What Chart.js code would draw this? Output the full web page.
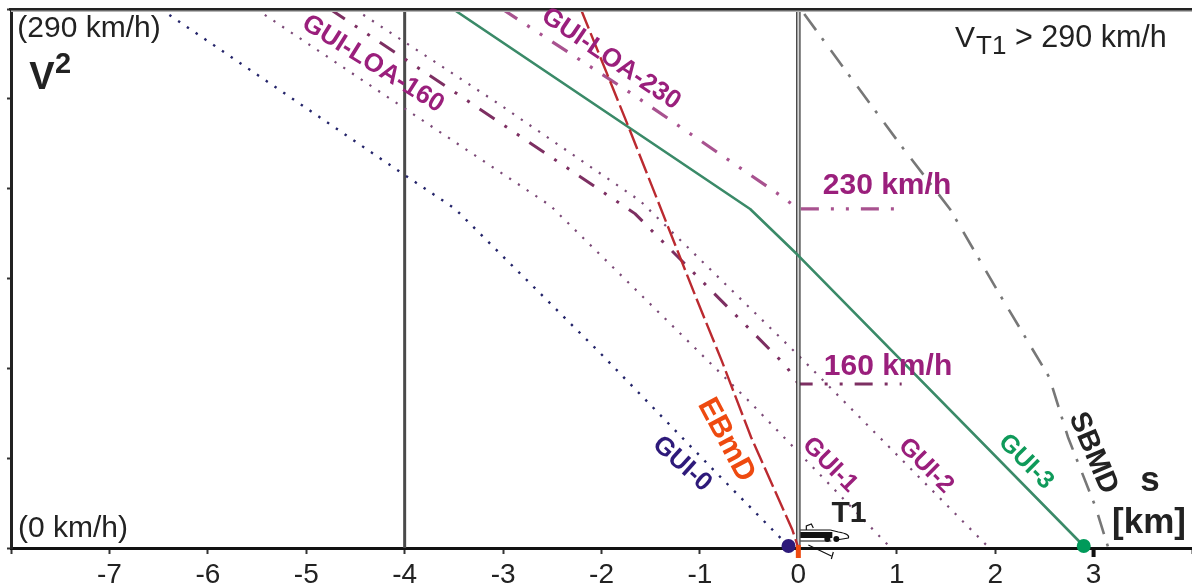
<!DOCTYPE html>
<html>
<head>
<meta charset="utf-8">
<style>
html,body{margin:0;padding:0;background:#fff}
#wrap{width:1192px;height:587px;position:relative;overflow:hidden}
canvas{display:block}
</style>
<script src="https://cdn.jsdelivr.net/npm/chart.js@4/dist/chart.umd.min.js"></script>
</head>
<body>
<div id="wrap"><canvas id="c" width="1192" height="587"></canvas></div>
<script>
// Horizontal axis: distance s [km]; vertical axis: V squared, (km/h)^2
const xTickLabels = ['-7','-6','-5','-4','-3','-2','-1','0','1','2','3'];
const speedTop = 84100, speed230 = 52900, speed160 = 25600;

const gui0S = [-6.48,-3.99,-3.49,-2.01,-0.86,-0.10];
const gui0V = [speedTop,58091,52950,30369,12148,311];

const gui1S = [-5.51,-4.01,-2.52,-0.48,0.94];
const gui1V = [speedTop,68681,53419,22582,0];

const gui2S = [-4.51,-3.06,-1.61,-0.02,1.94];
const gui2V = [speedTop,69460,54198,30369,0];

const gui3S = [-3.51,-0.49,0,2.90];
const gui3V = [speedTop,speed230,45632,311];

const loa160S = [-4.76,-3.33,-1.66,-0.13,0,1.05];
const loa160V = [speedTop,69460,52173,28500,speed160,speed160];

const loa230S = [-3.01,-1.66,-0.18,0,1.09];
const loa230V = [speedTop,70550,54976,speed230,speed230];

const ebmdS = [-2.21,-1.73,-1.04,-0.78,-0.48,-0.06,0];
const ebmdV = [speedTop,65878,39091,29279,17287,2803,0];

const sbmdS = [0.06,0.52,1.06,1.54,2.04,2.55,2.74,3.02,3.15];
const sbmdV = [83321,73665,62452,speed230,39714,26632,17287,6385,0];

const markerS = [-0.10,2.90];
const markerV = [311,311];

const pts = (xs,ys) => xs.map((x,i)=>({x,y:ys[i]}));
const lineDs = (xs,ys,color,width,dash) => ({
  type:'line',data:pts(xs,ys),borderColor:color,borderWidth:width,borderDash:dash,
  pointRadius:0,fill:false,tension:0,borderCapStyle:'butt',borderJoinStyle:'round'
});

const PURPLE='#9a1f7c';
const textPlugin = {
  id:'decor',
  afterDraw(chart){
    const {ctx,chartArea:a,scales:{x,y}} = chart;
    const x0=x.getPixelForValue(0), y0=y.getPixelForValue(0), x3=x.getPixelForValue(3);
    ctx.save();
    // top frame with soft shadow
    ctx.fillStyle='#b5b5b5'; ctx.fillRect(a.left,a.top+1,a.right-a.left,2);
    ctx.fillStyle='#222';    ctx.fillRect(a.left-2,a.top-1,a.right-a.left+2,2.5);
    // highlighted ticks
    ctx.fillStyle='#ee4a10'; ctx.fillRect(x0-2.5,y0-3,5,13);
    ctx.fillStyle='#111';    ctx.fillRect(x3-2,y0,4,9);
    // train T1
    ctx.fillStyle='#111'; ctx.strokeStyle='#111';
    ctx.fillRect(x0+2,y0-16,32,6);
    ctx.lineWidth=1.2;
    ctx.beginPath();
    ctx.moveTo(x0+2,y0-18); ctx.lineTo(x0+32,y0-18);
    ctx.moveTo(x0+2,y0-7);  ctx.lineTo(x0+33,y0-7);
    ctx.moveTo(x0+32,y0-18);ctx.lineTo(x0+40,y0-16);
    ctx.quadraticCurveTo(x0+52,y0-14,x0+50,y0-10);
    ctx.lineTo(x0+38,y0-8);
    ctx.moveTo(x0+8,y0-18); ctx.lineTo(x0+8,y0-22); ctx.lineTo(x0+13,y0-24); ctx.lineTo(x0+15,y0-20);
    ctx.moveTo(x0+10,y0-3); ctx.lineTo(x0+33,y0+8);
    ctx.moveTo(x0+35,y0+4); ctx.lineTo(x0+33,y0+11);
    ctx.stroke();
    [29,38].forEach(d=>{ctx.beginPath();ctx.arc(x0+d,y0-9,3,0,7);ctx.fill();});
    // labels
    const T=(s,px,py,deg,font,color,align='center')=>{
      ctx.save();ctx.translate(px,py);ctx.rotate(deg*Math.PI/180);
      ctx.font=font;ctx.fillStyle=color;ctx.textAlign=align;ctx.textBaseline='middle';
      ctx.fillText(s,0,0);ctx.restore();
    };
    const F='"Liberation Sans"';
    T('(290 km/h)',89,29,0,'30px '+F,'#222');
    T('(0 km/h)',73,529,0,'30px '+F,'#222');
    T('V',42,79,0,'bold 38px '+F,'#222');
    T('2',63,65,0,'bold 29px '+F,'#222');
    T('V',955,39,0,'30px '+F,'#222','left');
    T('T1',976,47,0,'26px '+F,'#222','left');
    T('> 290 km/h',1015,39,0,'30.5px '+F,'#222','left');
    T('GUI-LOA-160',373,64,32,'bold 26px '+F,PURPLE);
    T('GUI-LOA-230',611,59,34,'bold 26px '+F,PURPLE);
    T('230 km/h',887,186,0,'bold 30px '+F,PURPLE);
    T('160 km/h',888,367,0,'bold 30px '+F,PURPLE);
    T('EBmD',726,440,62,'bold 30px '+F,'#ee4a10');
    T('GUI-0',682,464,42,'bold 26px '+F,'#2e1a7a');
    T('GUI-1',830,465,45,'bold 25px '+F,PURPLE);
    T('GUI-2',926,466,45,'bold 25px '+F,PURPLE);
    T('GUI-3',1026,462,45,'bold 25px '+F,'#0f9a5a');
    T('SBMD',1093,453,67,'bold 29px '+F,'#222');
    T('T1',849,514,0,'bold 30px '+F,'#222');
    T('s',1150,481,0,'bold 35px '+F,'#222');
    T('[km]',1149,523,0,'bold 35px '+F,'#222');
    ctx.restore();
  }
};

new Chart(document.getElementById('c'),{
  type:'scatter',
  data:{datasets:[
    {type:'scatter',data:pts(markerS.slice(0,1),markerV.slice(0,1)),pointRadius:7,
     backgroundColor:'#2e1a7a',borderWidth:0,clip:false},
    {type:'scatter',data:pts(markerS.slice(1),markerV.slice(1)),pointRadius:7,
     backgroundColor:'#009a5a',borderWidth:0,clip:false},
    lineDs(ebmdS,ebmdV,'#bb2a30',2.4,[21,5]),
    lineDs(gui3S,gui3V,'#3a8a68',2.6,[]),
    lineDs([0,0],[0,speedTop],'#d4d4d4',2,[]),
    lineDs([0,0],[0,speedTop],'#3c3c3c',4.5,[]),
    lineDs(sbmdS,sbmdV,'#777777',2.6,[20,10,3,12]),
    lineDs(loa230S,loa230V,'#a8528f',3.2,[18,12,3,12,3,12]),
    lineDs(loa160S,loa160V,'#7d2f62',3,[18,12,3,12,3,12]),
    lineDs(gui2S,gui2V,'#7c4a78',2.2,[2.2,8.3]),
    lineDs(gui1S,gui1V,'#7c4a78',2.2,[2.2,8.3]),
    lineDs(gui0S,gui0V,'#24246a',2.4,[2.4,8.2]),
    lineDs([-4,-4],[0,speedTop],'#4a4a4a',3,[])
  ]},
  options:{
    responsive:false,animation:false,
    layout:{autoPadding:false,padding:{top:9,right:0,left:0,bottom:0}},
    plugins:{legend:{display:false},tooltip:{enabled:false},title:{display:false}},
    scales:{
      x:{type:'linear',min:-8,max:4,
        afterFit(s){s.height=39;},
        grid:{drawOnChartArea:false,drawTicks:true,tickLength:6,tickColor:'#333',tickWidth:2},
        border:{display:true,color:'#111',width:3},
        ticks:{stepSize:1,autoSkip:false,maxRotation:0,padding:0,color:'#222',
          font:{family:'"Liberation Sans"',size:28,lineHeight:1.55},
          callback:v=>xTickLabels.includes(String(v))?String(v):''}
      },
      y:{type:'linear',min:0,max:speedTop,
        afterFit(s){s.width=11;},
        grid:{drawOnChartArea:false,drawTicks:true,tickLength:4,tickColor:'#333',tickWidth:2},
        border:{display:true,color:'#222',width:3},
        ticks:{display:false,stepSize:speedTop/6}
      }
    }
  },
  plugins:[textPlugin]
});
</script>
</body>
</html>
